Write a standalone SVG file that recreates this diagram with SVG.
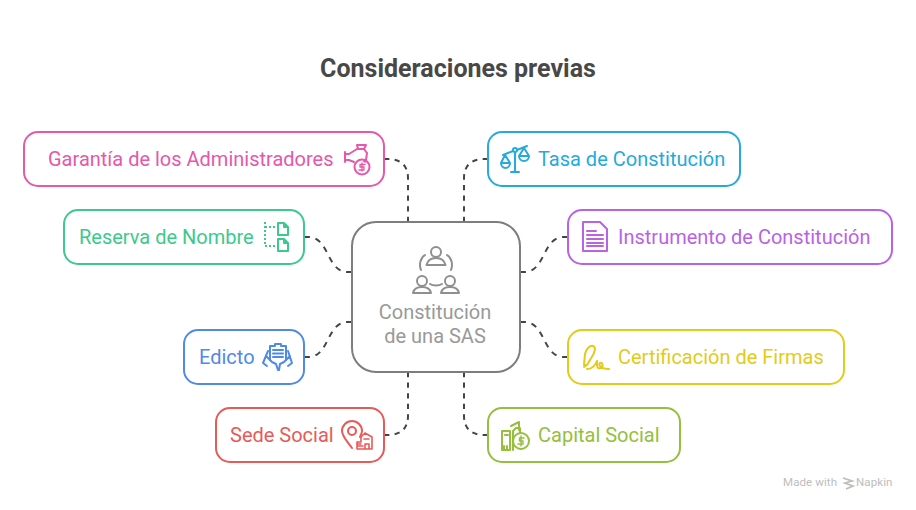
<svg xmlns="http://www.w3.org/2000/svg" width="916" height="510" viewBox="0 0 916 510">
<style>
text{font-family:Roboto,"Liberation Sans",sans-serif}
.t{font-size:20px}
.b{fill:#fff;stroke-width:2;}
.i{fill:none;stroke-width:2;stroke-linecap:round;stroke-linejoin:round}
.c{fill:none;stroke:#444;stroke-width:2;stroke-dasharray:6 6}
.pk{stroke:#e558aa}.gn{stroke:#3cc98d}.bl{stroke:#4f8ae8}.rd{stroke:#e85a58}.cy{stroke:#25aadd}.pu{stroke:#b962e6}.ye{stroke:#e3cb17}.ol{stroke:#95bf3c}
</style>
<rect width="916" height="510" fill="#fff"/>
<text x="458" y="77" text-anchor="middle" font-size="25" font-weight="700" fill="#484848">Consideraciones previas</text>
<g id="connectors">
<path class="c" pathLength="90" d="M384 159H388C400 159 408 165 408 178V222"/>
<path class="c" pathLength="66" d="M304 237H308C330 237 326 272 348 272H352"/>
<path class="c" pathLength="66" d="M304 357H308C330 357 326 322 348 322H352"/>
<path class="c" pathLength="90" d="M384 435H388C400 435 408 429 408 416V372"/>
<path class="c" pathLength="90" d="M488 159H484C472 159 464 165 464 178V222"/>
<path class="c" pathLength="66" d="M568 237H564C542 237 546 272 524 272H520"/>
<path class="c" pathLength="66" d="M568 357H564C542 357 546 322 524 322H520"/>
<path class="c" pathLength="90" d="M488 435H484C472 435 464 429 464 416V372"/>
</g>
<g id="center">
<rect x="352" y="222" width="168" height="150" rx="24" fill="#fff" stroke="#7d7d7d" stroke-width="2"/>
<g class="i" stroke="#8f8f8f">
<circle cx="436" cy="252" r="5"/><path d="M426.500 265C428 259 432 258 436 258C440 258 444 259 445.500 265Z"/>
<circle cx="422" cy="281" r="5"/><path d="M413 293C414 288 418 287 422 287C426 287 430 288 431 293Z"/>
<circle cx="450" cy="281" r="5"/><path d="M441 293C442 288 446 287 450 287C454 287 458 288 459 293Z"/>
<path d="M425 255C420 258 419 265 421 270M447 255C452 258 453 265 451 270M430 284C433 286 439 286 442 284"/>
</g>
<text x="435" y="319" text-anchor="middle" class="t" fill="#999">Constitución</text>
<text x="435" y="343" text-anchor="middle" class="t" fill="#999">de una SAS</text>
</g>
<g id="garantia">
<rect x="24" y="132" width="360" height="54" rx="14" class="b pk"/>
<text x="48" y="166" class="t" fill="#e558aa">Garantía de los Administradores</text>
<g class="i pk" stroke-width="1.800">
<path d="M345 152V162M345 154H349L357 149H364L367 153L366 160C366 162 365 162 364 161M345 160H349L354 162"/>
<path d="M357 145H366L364 149H358Z"/>
<circle cx="362" cy="167" r="7.500"/>
<path d="M365 164.500H360V167H364V170H359M362 163V171" stroke-width="1.300"/>
</g>
</g>
<g id="reserva">
<rect x="64" y="210" width="240" height="54" rx="14" class="b gn"/>
<text x="79" y="244" class="t" fill="#3cc98d">Reserva de Nombre</text>
<g class="i gn">
<path d="M278 223H284L288 227V235H278ZM284 223V227H288"/>
<path d="M278 239H284L288 243V251H278ZM284 239V243H288"/>
<path d="M265 222V246H275M265 227H275" stroke-dasharray="2 2" stroke-linecap="butt"/>
</g>
</g>
<g id="edicto">
<rect x="184" y="330" width="120" height="54" rx="14" class="b bl"/>
<text x="199" y="364" class="t" fill="#4f8ae8">Edicto</text>
<g class="i bl" stroke-width="1.700">
<path d="M270 360V346H275V344H281V346H286V360M273 350H283M273 353.500H283M273 357H283"/>
<path d="M268 351L263 363L267 366M266 356L272 362L276 364L278 370M288 351L292 363L288 366M290 356L284 362L280 364L279 370"/>
</g>
</g>
<g id="sede">
<rect x="216" y="408" width="168" height="54" rx="14" class="b rd"/>
<text x="230" y="442" class="t" fill="#e85a58">Sede Social</text>
<g class="i rd">
<path d="M352 448C346 440 342 436 342 431A10 10 0 0 1 362 431C362 433 361 435 360 437"/>
<circle cx="352" cy="431" r="4"/>
<path d="M357 449H372V437L365 433L361 437V442H357ZM358 446H363M358 444H361M365 449V444H369V449M364 439H369" stroke-width="1.600"/>
</g>
</g>
<g id="tasa">
<rect x="488" y="132" width="252" height="54" rx="14" class="b cy"/>
<text x="538" y="166" class="t" fill="#25aadd">Tasa de Constitución</text>
<g class="i cy">
<circle cx="515" cy="150" r="2"/>
<path d="M515 152V172M511 172H519M503 155L513 151M517 150L527 146"/>
<path d="M505 155L501 163M505 155L510 163M501 163H510A4.500 5 0 0 1 501 163Z"/>
<path d="M524 148L519 156M524 148L529 156M519 156H529A5 5 0 0 1 519 156Z"/>
</g>
</g>
<g id="instrumento">
<rect x="568" y="210" width="324" height="54" rx="14" class="b pu"/>
<text x="618" y="244" class="t" fill="#b962e6">Instrumento de Constitución</text>
<g class="i pu">
<path d="M583 222H600L607 229V251H583Z"/>
<path d="M587 231H596M587 235H603M587 239H603M587 243H603M587 246H603"/>
</g>
</g>
<g id="certificacion">
<rect x="568" y="330" width="276" height="54" rx="14" class="b ye"/>
<text x="618" y="364" class="t" fill="#e3cb17">Certificación de Firmas</text>
<g class="i ye">
<path d="M584 365L585 354C586 349 590 345 593 346C596 347 595 351 593 355L587 365ZM584 367L587 365"/>
<path d="M587 369C592 369 595 366 597 361C597 366 597 369 600 368C604 367 603 362 600 363C598 365 601 369 609 369"/>
</g>
</g>
<g id="capital">
<rect x="488" y="408" width="192" height="54" rx="14" class="b ol"/>
<text x="538" y="442" class="t" fill="#95bf3c">Capital Social</text>
<g class="i ol">
<path d="M502 450V431H510V450ZM505 435H508M504 446V450H507V446"/>
<path d="M511 426L519 422V430M513 450V431L516 428H520V433"/>
<circle cx="521" cy="441" r="8"/>
<path d="M524 438H519.500V441H523V444H518M521 436V446" stroke-width="1.400"/>
</g>
</g>
<g id="watermark">
<text x="783" y="486" font-size="11.500" fill="#bdbdbd" letter-spacing=".1">Made with</text>
<path d="M843 478L852 481L845 483L853 486L846 489" fill="none" stroke="#bdbdbd" stroke-width="1.800"/>
<text x="856" y="486" font-size="11.500" fill="#bdbdbd" letter-spacing=".1">Napkin</text>
</g>
</svg>
